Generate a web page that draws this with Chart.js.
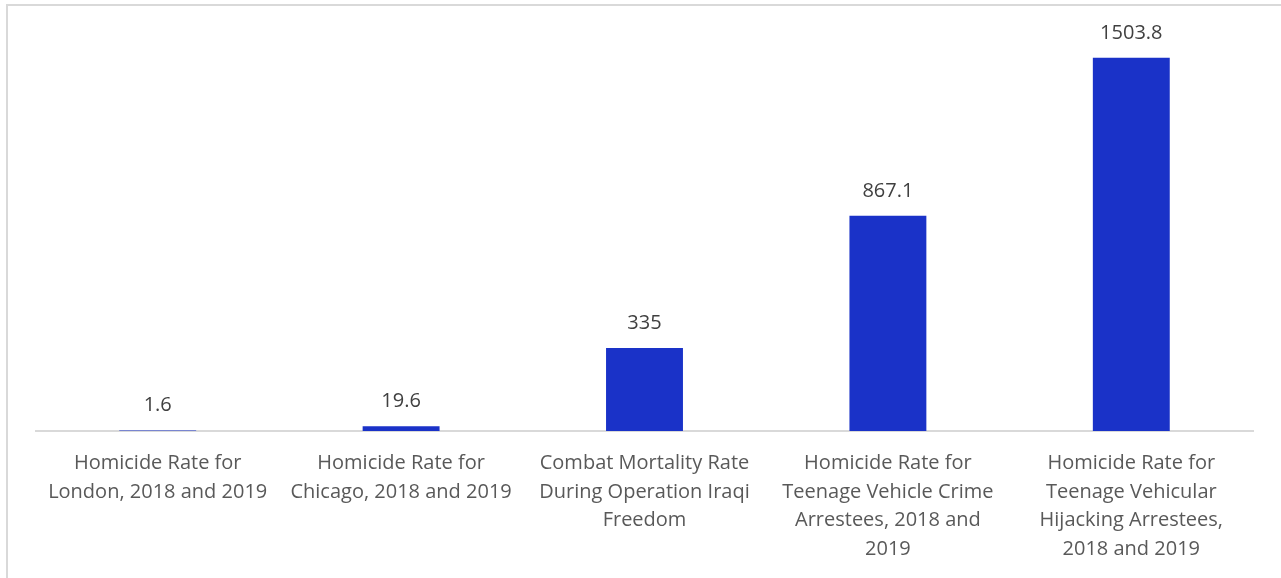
<!DOCTYPE html>
<html>
<head>
<meta charset="utf-8">
<script src="https://cdn.jsdelivr.net/npm/chart.js@4.4.1/dist/chart.umd.min.js"></script>
<style>
  html, body { margin: 0; padding: 0; background: #fff; overflow: hidden; }
  #frame { position: absolute; left: 6px; top: 4px; width: 1300px; height: 620px; border: 2px solid #d9d9d9; box-sizing: border-box; }
  #wrap { position: absolute; left: 0; top: 0; width: 1281px; height: 578px; }
</style>
</head>
<body>
<div id="frame"></div>
<div id="wrap"><canvas id="barChart"></canvas></div>
<script>
// ===== Data =====
const categories = [
    ['Homicide Rate for', 'London, 2018 and 2019'],
    ['Homicide Rate for', 'Chicago, 2018 and 2019'],
    ['Combat Mortality Rate', 'During Operation Iraqi', 'Freedom'],
    ['Homicide Rate for', 'Teenage Vehicle Crime', 'Arrestees, 2018 and', '2019'],
    ['Homicide Rate for', 'Teenage Vehicular', 'Hijacking Arrestees,', '2018 and 2019']
];
const rates = [1.6, 19.6, 335, 867.1, 1503.8];
const rateLabels = ['1.6', '19.6', '335', '867.1', '1503.8'];

const FONT = '"Open Sans", "Noto Sans", sans-serif';

// ===== Value labels above bars =====
const valueLabels = {
    id: 'valueLabels',
    afterDatasetsDraw(chart) {
        const ctx = chart.ctx;
        const meta = chart.getDatasetMeta(0);
        ctx.save();
        ctx.font = '20px ' + FONT;
        ctx.fillStyle = '#404040';
        ctx.textAlign = 'center';
        ctx.textBaseline = 'middle';
        meta.data.forEach((bar, i) => {
            ctx.fillText(rateLabels[i], bar.x, bar.y - 25);
        });
        ctx.restore();
    }
};

// ===== Chart =====
const ctx = document.getElementById('barChart').getContext('2d');
const chart = new Chart(ctx, {
    type: 'bar',
    data: {
        labels: categories,
        datasets: [{
            data: rates,
            backgroundColor: '#1a32c8',
            categoryPercentage: 1,
            barPercentage: 0.316
        }]
    },
    options: {
        responsive: true,
        maintainAspectRatio: false,
        animation: false,
        layout: {padding: {left: 36, right: 28, top: 34, bottom: 0}},
        plugins: {legend: {display: false}, tooltip: {enabled: false}},
        scales: {
            y: {display: false, min: 0, max: 1600},
            x: {
                z: 1,
                grid: {display: false, drawTicks: false},
                border: {display: true, color: '#d9d9d9', width: 2},
                ticks: {
                    autoSkip: false, maxRotation: 0, minRotation: 0,
                    padding: 18,
                    color: '#595959',
                    font: {family: FONT, size: 20, lineHeight: 1.43}
                },
                afterFit(scale) { scale.height = 147; }
            }
        }
    },
    plugins: [valueLabels]
});
</script>
</body>
</html>
